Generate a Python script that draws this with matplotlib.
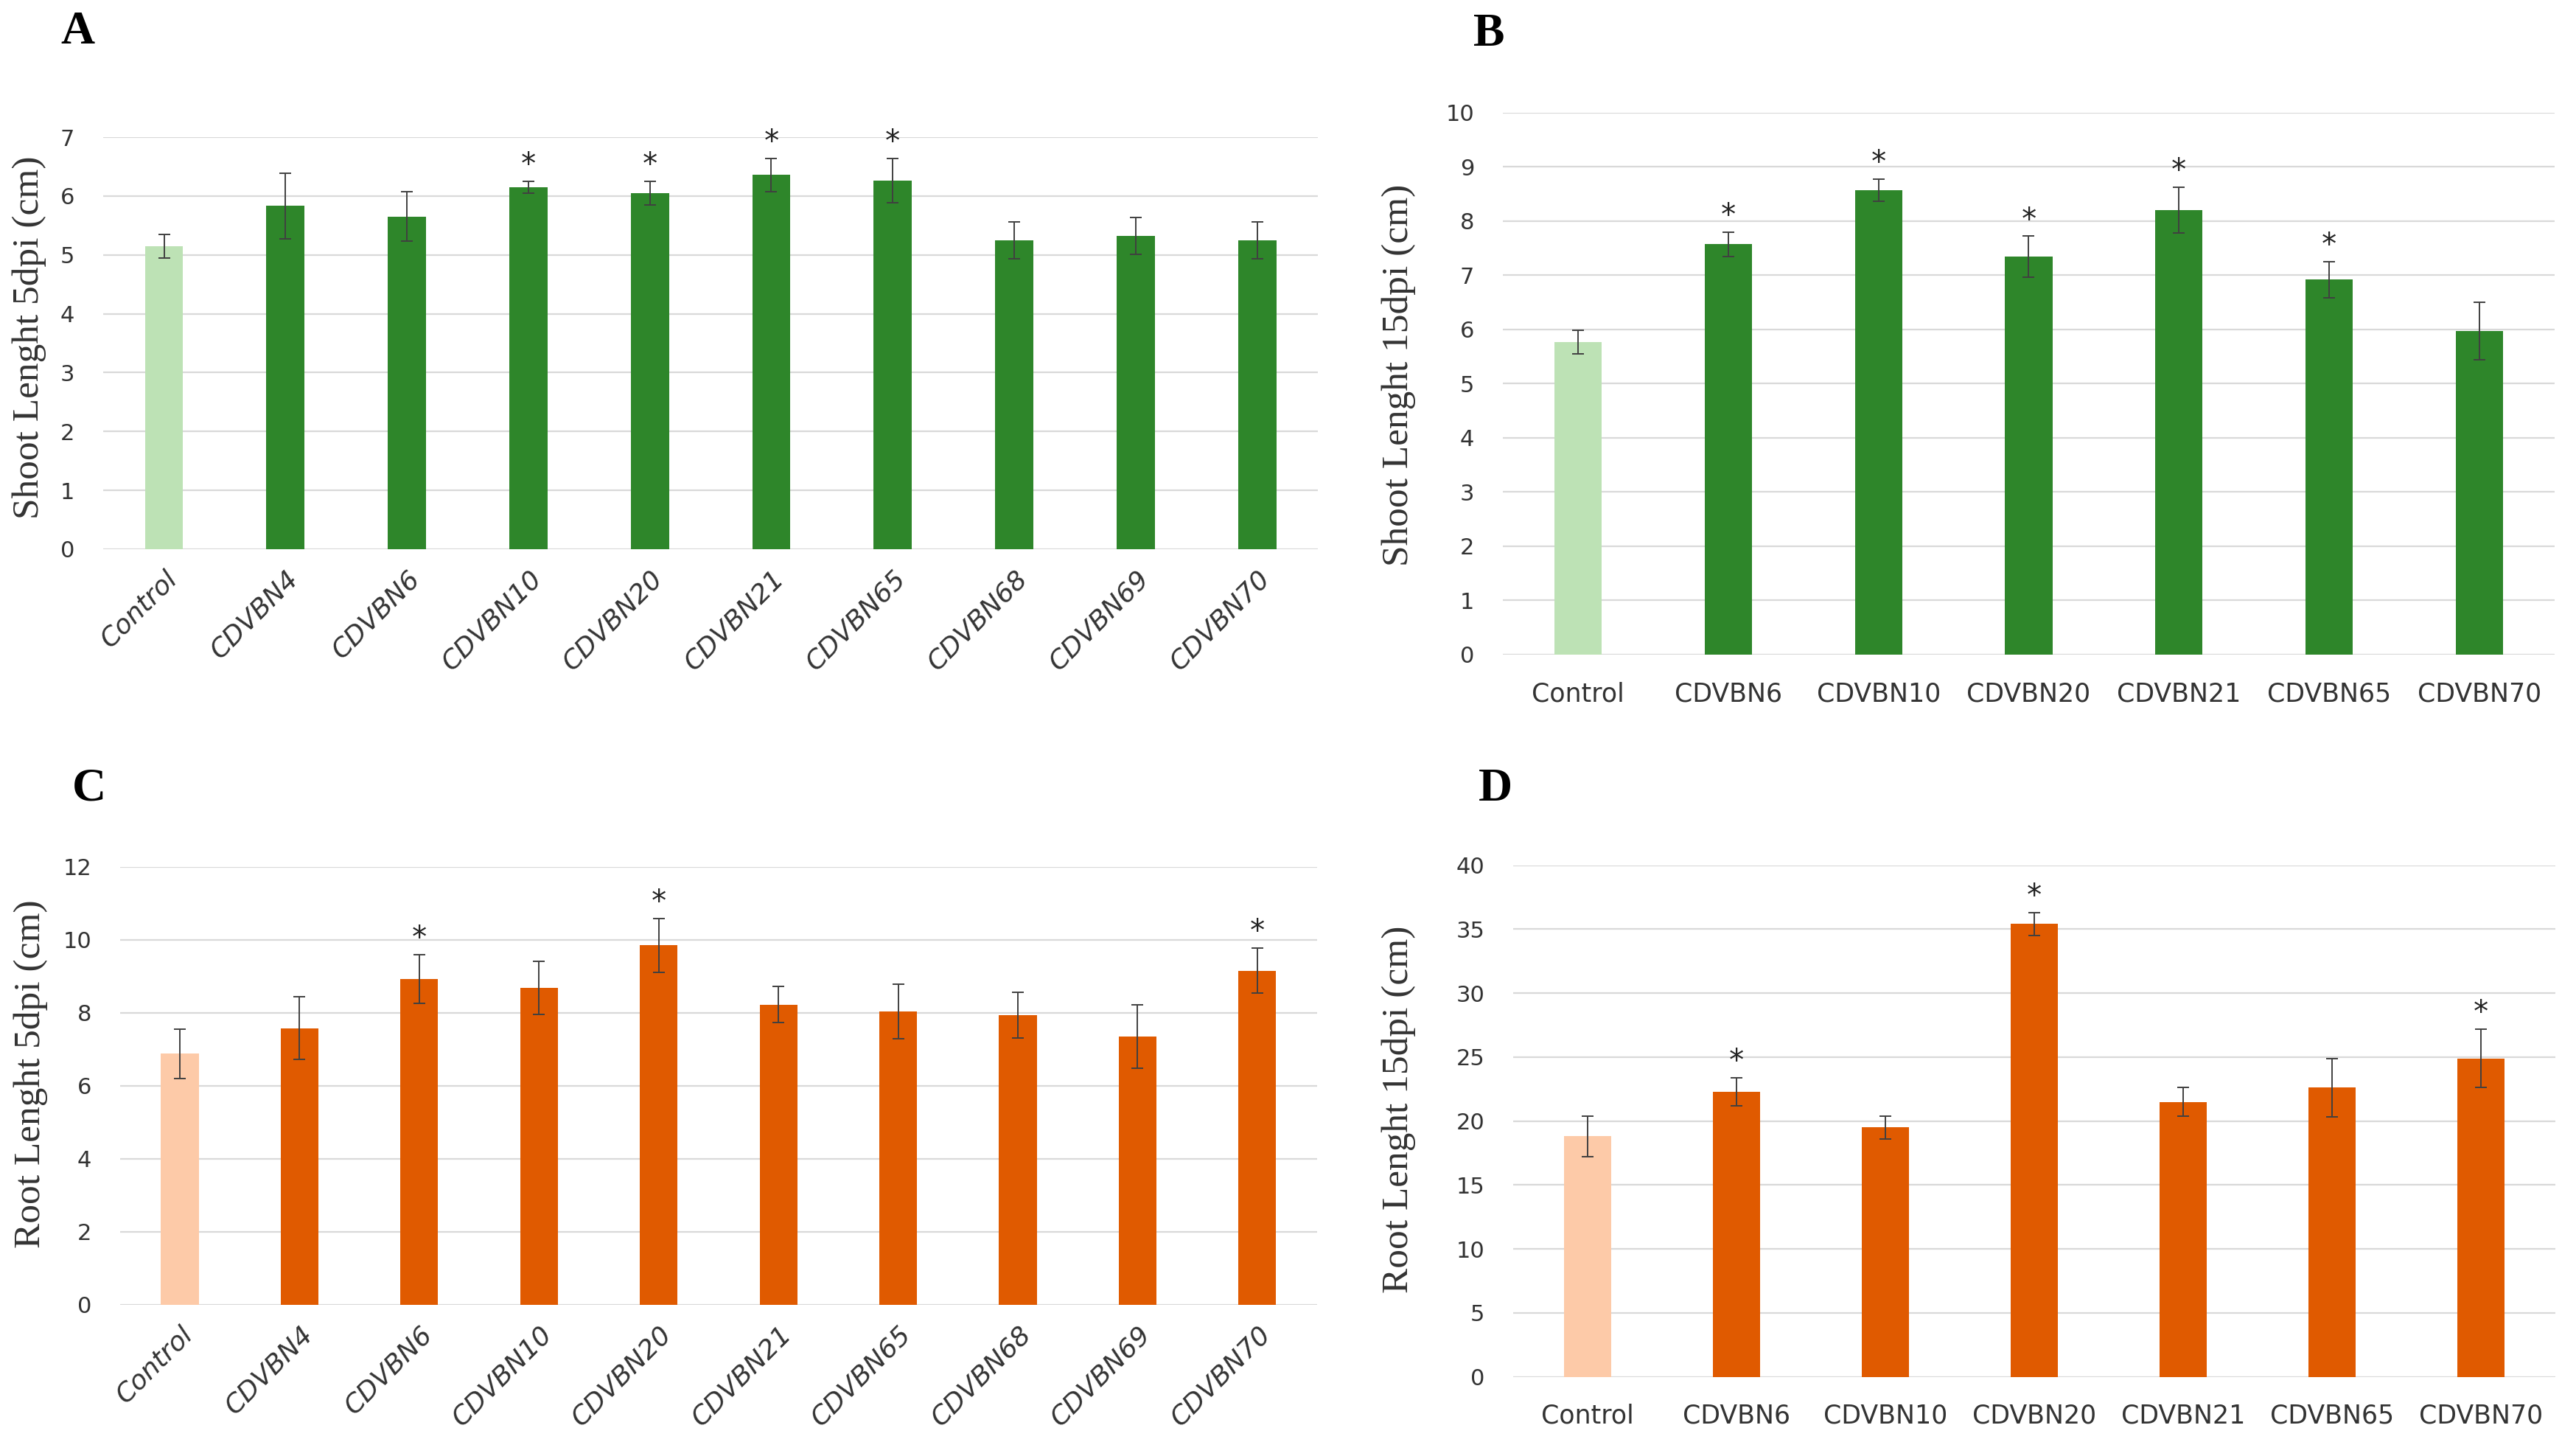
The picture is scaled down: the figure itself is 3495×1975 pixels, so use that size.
import matplotlib
matplotlib.use("Agg")
import matplotlib.pyplot as plt

# panel A - shoot length 5 dpi
a_labels = ['Control', 'CDVBN4', 'CDVBN6', 'CDVBN10', 'CDVBN20', 'CDVBN21',
            'CDVBN65', 'CDVBN68', 'CDVBN69', 'CDVBN70']
a_vals = [5.15, 5.83, 5.65, 6.15, 6.05, 6.36, 6.26, 5.25, 5.32, 5.25]
a_err = [0.20, 0.56, 0.42, 0.10, 0.20, 0.28, 0.38, 0.31, 0.31, 0.31]
a_sig = ['CDVBN10', 'CDVBN20', 'CDVBN21', 'CDVBN65']

# panel B - shoot length 15 dpi
b_labels = ['Control', 'CDVBN6', 'CDVBN10', 'CDVBN20', 'CDVBN21', 'CDVBN65', 'CDVBN70']
b_vals = [5.77, 7.57, 8.57, 7.34, 8.20, 6.92, 5.97]
b_err = [0.22, 0.23, 0.21, 0.38, 0.42, 0.33, 0.53]
b_sig = ['CDVBN6', 'CDVBN10', 'CDVBN20', 'CDVBN21', 'CDVBN65']

# panel C - root length 5 dpi
c_labels = a_labels
c_vals = [6.88, 7.58, 8.93, 8.69, 9.85, 8.23, 8.04, 7.94, 7.35, 9.16]
c_err = [0.68, 0.86, 0.67, 0.73, 0.74, 0.50, 0.74, 0.62, 0.87, 0.61]
c_sig = ['CDVBN6', 'CDVBN20', 'CDVBN70']

# panel D - root length 15 dpi
d_labels = b_labels
d_vals = [18.8, 22.3, 19.5, 35.4, 21.5, 22.6, 24.9]
d_err = [1.6, 1.1, 0.9, 0.9, 1.1, 2.3, 2.3]
d_sig = ['CDVBN6', 'CDVBN20', 'CDVBN70']

GREEN = '#2e862a'
LIGHT_GREEN = '#bde2b5'
ORANGE = '#e05a00'
LIGHT_ORANGE = '#fdcaa8'
GRID = '#d9d9d9'
TXT = '#333333'
NARROW = ['Liberation Sans Narrow', 'DejaVu Sans']
SERIF = ['Liberation Serif', 'DejaVu Serif']


def panel(rect, labels, vals, err, sig, ymax, step, color, light, rotate):
    ax = fig.add_axes(rect)
    x = list(range(len(labels)))
    colors = [light] + [color] * (len(labels) - 1)
    ax.bar(x, vals, width=0.315, color=colors, zorder=2)
    ax.errorbar(x, vals, yerr=err, fmt='none', ecolor='#404040',
                elinewidth=1.4, capsize=6, capthick=1.4, zorder=3)
    for i, name in enumerate(labels):
        if name in sig:
            ax.annotate('*', (i, vals[i] + err[i]), xytext=(0, 15),
                        textcoords='offset points', ha='center', va='center',
                        fontsize=29, family=NARROW, color='#222222')
    ax.set_xlim(-0.5, len(labels) - 0.5)
    ax.set_ylim(0, ymax)
    ax.set_yticks([v * step for v in range(int(ymax / step) + 1)])
    ax.yaxis.grid(True, color=GRID, linewidth=1.6, zorder=0)
    for s in ax.spines.values():
        s.set_visible(False)
    ax.tick_params(axis='both', length=0, colors=TXT)
    ax.tick_params(axis='y', pad=28)
    for t in ax.get_yticklabels():
        t.set_family(NARROW)
        t.set_fontsize(22)
    ax.set_xticks(x)
    if rotate:
        ax.set_xticklabels(labels, rotation=45, ha='right', va='top',
                           rotation_mode='anchor', fontsize=26, family=NARROW,
                           style='italic')
        ax.tick_params(axis='x', pad=16)
    else:
        ax.set_xticklabels(labels, fontsize=25, family=NARROW)
        ax.tick_params(axis='x', pad=26)
    return ax


fig = plt.figure(figsize=(34.95, 19.75), dpi=100)

panel([0.0401, 0.6228, 0.4715, 0.2830], a_labels, a_vals, a_err, a_sig,
      7, 1, GREEN, LIGHT_GREEN, True)
panel([0.5834, 0.5504, 0.4083, 0.3722], b_labels, b_vals, b_err, b_sig,
      10, 1, GREEN, LIGHT_GREEN, False)
panel([0.0466, 0.1038, 0.4647, 0.3008], c_labels, c_vals, c_err, c_sig,
      12, 2, ORANGE, LIGHT_ORANGE, True)
panel([0.5874, 0.0544, 0.4046, 0.3514], d_labels, d_vals, d_err, d_sig,
      40, 5, ORANGE, LIGHT_ORANGE, False)

# y axis titles
fig.text(40 / 3495, 1 - 458 / 1975, 'Shoot Lenght 5dpi (cm)', rotation=90,
         ha='center', va='center', fontsize=37, family=SERIF, color=TXT)
fig.text(1898 / 3495, 1 - 509 / 1975, 'Shoot Lenght 15dpi (cm)', rotation=90,
         ha='center', va='center', fontsize=37, family=SERIF, color=TXT)
fig.text(42 / 3495, 1 - 1457 / 1975, 'Root Lenght 5dpi (cm)', rotation=90,
         ha='center', va='center', fontsize=37, family=SERIF, color=TXT)
fig.text(1898 / 3495, 1 - 1505 / 1975, 'Root Lenght 15dpi (cm)', rotation=90,
         ha='center', va='center', fontsize=37, family=SERIF, color=TXT)

# panel letters
for lab, px, py in [('A', 105, 44), ('B', 2020, 47), ('C', 121, 1070), ('D', 2029, 1071)]:
    fig.text(px / 3495, 1 - py / 1975, lab, ha='center', va='center',
             fontsize=46, fontweight='bold', family=SERIF, color='black')

fig.savefig('out.png', dpi=100, facecolor='white')
